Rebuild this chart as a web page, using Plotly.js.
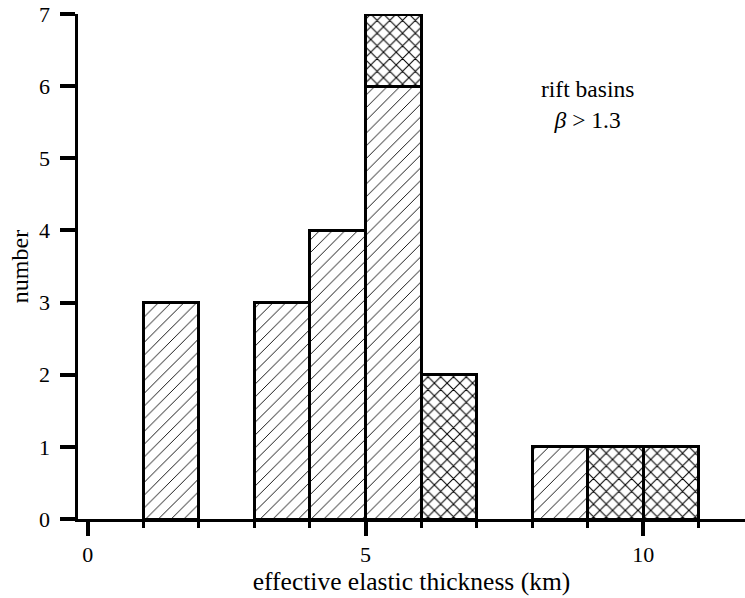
<!DOCTYPE html>
<html>
<head>
<meta charset="utf-8">
<script src="https://cdn.plot.ly/plotly-3.0.1.min.js"></script>
<style>html,body{margin:0;padding:0;background:#fff;}#chart{width:745px;height:598px;}</style>
</head>
<body>
<div id="chart"></div>
<script>
// Histogram data (bin centres, counts)
const diagBins = [1.5, 3.5, 4.5, 5.5, 8.5];
const diagCounts = [3, 3, 4, 6, 1];
const crossBins = [5.5, 6.5, 9.5, 10.5];
const crossCounts = [1, 2, 1, 1];
const xTickVals = [0, 5, 10];
const yTickVals = [0, 1, 2, 3, 4, 5, 6, 7];

const fam = '"Liberation Serif", "Times New Roman", serif';
const f = (s) => ({family: fam, size: s, color: '#000'});

const traces = [
  {
    type: 'bar', x: diagBins, y: diagCounts, width: 1,
    marker: {color: '#fff', line: {color: '#000', width: 3},
      pattern: {shape: '/', fgcolor: '#000', bgcolor: '#fff', size: 9, solidity: 0.1}},
    hoverinfo: 'skip', showlegend: false
  },
  {
    type: 'bar', x: crossBins, y: crossCounts, width: 1,
    marker: {color: '#fff', line: {color: '#000', width: 3},
      pattern: {shape: 'x', fgcolor: '#000', bgcolor: '#fff', size: 9, solidity: 0.22}},
    hoverinfo: 'skip', showlegend: false
  }
];

const layout = {
  width: 745, height: 598,
  margin: {l: 78, r: 0, t: 14, b: 79},
  paper_bgcolor: '#fff', plot_bgcolor: '#fff',
  barmode: 'stack', bargap: 0,
  font: f(22),
  xaxis: {
    range: [-0.175, 11.83],
    tickvals: xTickVals, ticktext: xTickVals.map(String),
    ticks: 'outside', ticklen: 14, tickwidth: 4, tickcolor: '#000',
    minor: {dtick: 1, tick0: 0, ticks: 'outside', ticklen: 6, tickwidth: 3, tickcolor: '#000'},
    showline: true, linewidth: 3, linecolor: '#000',
    showgrid: false, zeroline: false,
    tickfont: f(22),
    title: {text: 'effective elastic thickness (km)', font: f(25.5), standoff: 5}
  },
  yaxis: {
    range: [0, 7],
    tickvals: yTickVals,
    ticks: 'outside', ticklen: 15, tickwidth: 4, tickcolor: '#000',
    ticklabelstandoff: 5,
    showline: true, linewidth: 3.5, linecolor: '#000',
    showgrid: false, zeroline: false,
    tickfont: f(22),
    title: {text: 'number', font: f(24), standoff: 4}
  },
  shapes: [
    {type: 'line', xref: 'paper', yref: 'y', x0: -15/667, x1: 0, y0: 0, y1: 0,
     line: {color: '#000', width: 3}}
  ],
  annotations: [
    {xref: 'x', yref: 'y', x: 9, y: 5.75, text: 'rift basins<br><i>β</i> &gt; 1.3',
     showarrow: false, align: 'center', font: f(23.5)}
  ]
};

Plotly.newPlot('chart', traces, layout, {staticPlot: true});
</script>
</body>
</html>
